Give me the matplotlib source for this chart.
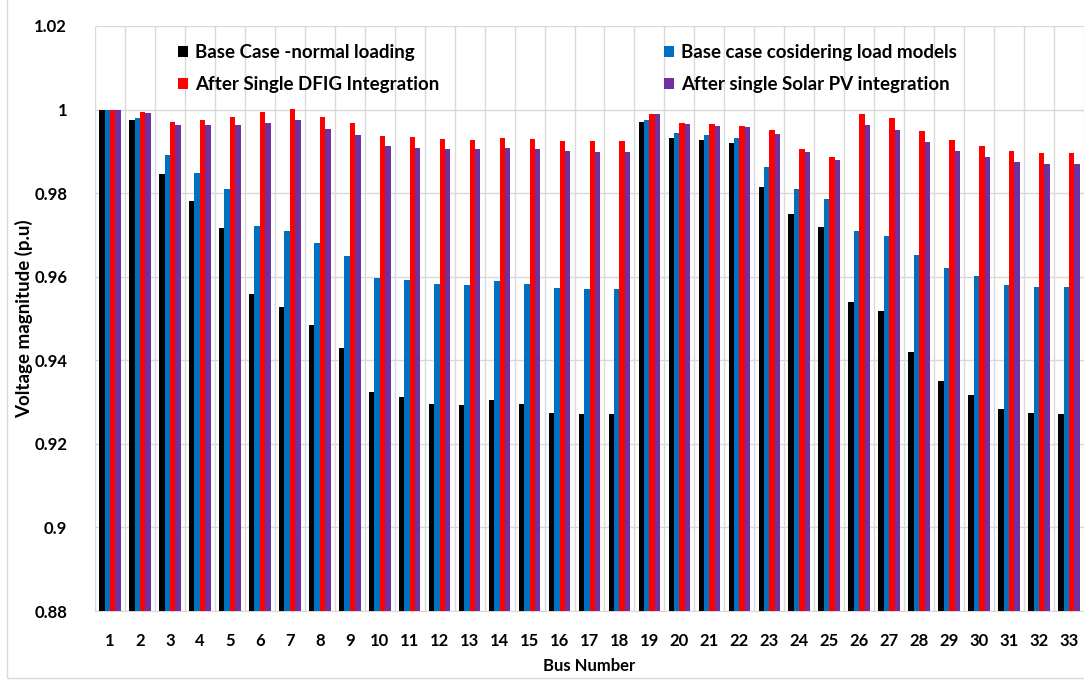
import numpy as np
import matplotlib
matplotlib.use('Agg')
import matplotlib.pyplot as plt
from matplotlib.ticker import FuncFormatter, MultipleLocator

plt.rcParams['font.family'] = ['Lato', 'DejaVu Sans']

# Dados
buses = list(range(1, 34))
base_normal = [1.0, 0.9974, 0.9846, 0.9782, 0.9717, 0.9558, 0.9528, 0.9484, 0.9430, 0.9324,
               0.9313, 0.9296, 0.9292, 0.9306, 0.9296, 0.9274, 0.9272, 0.9272, 0.9970, 0.9932,
               0.9926, 0.9920, 0.9814, 0.9749, 0.9719, 0.9540, 0.9518, 0.9419, 0.9350, 0.9318,
               0.9283, 0.9274, 0.9272]
base_load_models = [1.0, 0.9980, 0.9891, 0.9849, 0.9810, 0.9722, 0.9709, 0.9680, 0.9650, 0.9598,
                    0.9591, 0.9583, 0.9580, 0.9590, 0.9583, 0.9572, 0.9570, 0.9570, 0.9976, 0.9944,
                    0.9939, 0.9933, 0.9863, 0.9811, 0.9786, 0.9710, 0.9698, 0.9652, 0.9620, 0.9602,
                    0.9580, 0.9575, 0.9575]
dfig = [1.0, 0.9993, 0.9971, 0.9976, 0.9982, 0.9995, 1.0002, 0.9982, 0.9967, 0.9937,
        0.9934, 0.9930, 0.9928, 0.9933, 0.9930, 0.9924, 0.9924, 0.9924, 0.9990, 0.9967,
        0.9966, 0.9961, 0.9950, 0.9906, 0.9887, 0.9990, 0.9980, 0.9948, 0.9926, 0.9913,
        0.9900, 0.9896, 0.9896]
solar_pv = [1.0, 0.9991, 0.9963, 0.9963, 0.9963, 0.9968, 0.9974, 0.9954, 0.9940, 0.9913,
            0.9909, 0.9905, 0.9905, 0.9909, 0.9905, 0.9901, 0.9898, 0.9898, 0.9990, 0.9966,
            0.9961, 0.9958, 0.9942, 0.9898, 0.9879, 0.9962, 0.9952, 0.9922, 0.9901, 0.9887,
            0.9874, 0.9870, 0.9870]

series = [
    ('Base Case -normal loading', base_normal, '#000000'),
    ('Base case cosidering load models', base_load_models, '#0070C0'),
    ('After Single DFIG Integration', dfig, '#FF0000'),
    ('After single Solar PV integration', solar_pv, '#7030A0'),
]

fig = plt.figure(figsize=(10.84, 6.8), dpi=100)
ax = fig.add_axes([95 / 1084, 69 / 680, 989 / 1084, 585 / 680])

x = np.array(buses)
w = 0.18
bars = []
for i, (nome, vals, cor) in enumerate(series):
    b = ax.bar(x + (i - 1.5) * w, vals, width=w, color=cor, zorder=3, label=nome)
    bars.append(b)

ax.set_ylim(0.88, 1.02)
ax.set_xlim(0.5, 33.5)
ax.yaxis.set_major_locator(MultipleLocator(0.02))
ax.yaxis.set_major_formatter(FuncFormatter(lambda v, _: f'{round(v, 2):g}'))
ax.set_xticks(x)
ax.set_xticklabels([str(b) for b in buses])
ax.xaxis.set_minor_locator(MultipleLocator(1, offset=0.5))

ax.grid(axis='y', which='major', color='#d9d9d9', lw=1, zorder=0)
ax.grid(axis='x', which='minor', color='#d9d9d9', lw=1, zorder=0)
ax.tick_params(axis='both', which='both', length=0, labelsize=12)
ax.tick_params(axis='x', pad=16)
ax.tick_params(axis='y', pad=20)
for lab in ax.get_xticklabels() + ax.get_yticklabels():
    lab.set_fontweight('bold')

for s in ['top', 'right', 'left']:
    ax.spines[s].set_visible(False)
ax.spines['bottom'].set_color('#d9d9d9')

ax.set_ylabel('Voltage magnitude (p.u)', fontsize=13.5, fontweight='bold')
ax.set_xlabel('Bus Number', fontsize=12, fontweight='bold')
ax.yaxis.set_label_coords(-0.0627, 0.5)
ax.xaxis.set_label_coords(0.5, -0.080)

# legenda em duas colunas
handles = [bars[0], bars[2], bars[1], bars[3]]
labels = [series[0][0], series[2][0], series[1][0], series[3][0]]
ax.legend(handles, labels, ncol=2, frameon=False, loc='upper left',
          bbox_to_anchor=(161 / 1084, 1 - 27 / 680), bbox_transform=fig.transFigure,
          handlelength=0.55, handleheight=0.55, handletextpad=0.35,
          columnspacing=12.0, labelspacing=0.8,
          prop={'weight': 'bold', 'size': 13.5})

# moldura externa
fig.patches.append(plt.Rectangle((7 / 1084, 2 / 680), 1.0, 1.0, transform=fig.transFigure,
                                 fill=False, edgecolor='#d9d9d9', lw=1))

fig.savefig('out.png', dpi=100)
